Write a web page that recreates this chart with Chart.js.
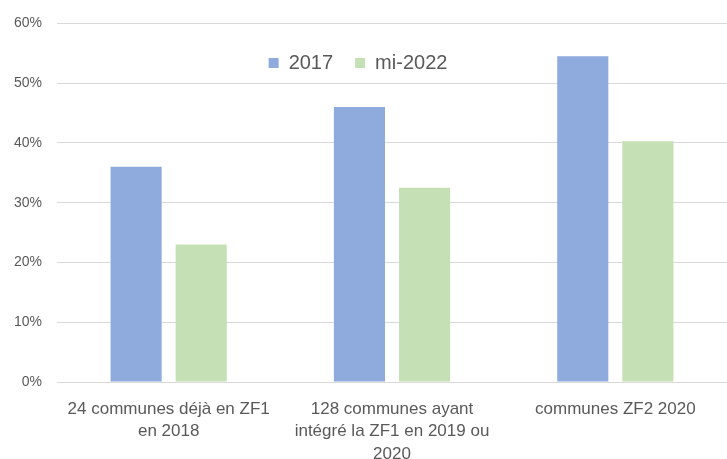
<!DOCTYPE html>
<html lang="fr">
<head>
    <meta charset="UTF-8">
    <title>Communes ZF1 / ZF2</title>
    <style>
        body {
            margin: 0;
            padding: 0;
            background-color: #ffffff;
        }

        .chart-box {
            width: 727px;
            height: 459px;
        }
    </style>
    <script src="https://cdn.jsdelivr.net/npm/chart.js"></script>
</head>
<body>
    <div class="chart-box">
        <canvas id="barChart" width="727" height="459"></canvas>
    </div>

    <script>
        // données
        const categories = [
            ['24 communes déjà en ZF1', 'en 2018'],
            ['128 communes ayant', 'intégré la ZF1 en 2019 ou', '2020'],
            'communes ZF2 2020'
        ];
        const seriesNames = ['2017', 'mi-2022'];
        const values2017 = [36, 46, 54.5];
        const valuesMi2022 = [23, 32.5, 40.3];
        const yTicks = [0, 10, 20, 30, 40, 50, 60];

        const colors = ['#8faadc', '#c5e0b4'];
        const textColor = '#595959';
        const fontName = '"Liberation Sans", Arial, sans-serif';

        // légende dessinée à l'intérieur de la zone du graphique, comme dans Excel
        const insideLegend = {
            id: 'insideLegend',
            afterDraw: function(chart) {
                const c = chart.ctx;
                const sets = chart.data.datasets;
                c.save();
                c.font = '20px ' + fontName;
                c.textBaseline = 'middle';
                const box = 10, gap = 10, between = 22;
                let total = 0;
                sets.forEach(function(ds, i) {
                    total += box + gap + c.measureText(ds.label).width;
                    if (i < sets.length - 1) total += between;
                });
                let x = 358 - total / 2;
                const y = 63;
                sets.forEach(function(ds) {
                    c.fillStyle = ds.backgroundColor;
                    c.fillRect(x, y - box / 2, box, box);
                    x += box + gap;
                    c.fillStyle = textColor;
                    c.fillText(ds.label, x, y);
                    x += c.measureText(ds.label).width + between;
                });
                c.restore();
            }
        };

        window.onload = function() {
            const ctx = document.getElementById('barChart').getContext('2d');
            new Chart(ctx, {
                type: 'bar',
                data: {
                    labels: categories,
                    datasets: [{
                        label: seriesNames[0],
                        data: values2017,
                        backgroundColor: colors[0],
                        borderWidth: 0,
                        categoryPercentage: 0.583,
                        barPercentage: 0.785
                    }, {
                        label: seriesNames[1],
                        data: valuesMi2022,
                        backgroundColor: colors[1],
                        borderWidth: 0,
                        categoryPercentage: 0.583,
                        barPercentage: 0.785
                    }]
                },
                plugins: [insideLegend],
                options: {
                    responsive: false,
                    animation: false,
                    layout: {
                        padding: { left: 14, right: 0, top: 18, bottom: 0 }
                    },
                    plugins: {
                        tooltip: { enabled: false },
                        legend: { display: false }
                    },
                    scales: {
                        x: {
                            grid: {
                                display: true,
                                drawOnChartArea: false,
                                drawTicks: true,
                                tickLength: 16,
                                color: 'rgba(0,0,0,0)'
                            },
                            border: { display: false },
                            afterFit: function(axis) {
                                axis.height = 77;
                            },
                            ticks: {
                                color: textColor,
                                font: { family: fontName, size: 17, lineHeight: 1.32 },
                                padding: 0,
                                maxRotation: 0,
                                autoSkip: false
                            }
                        },
                        y: {
                            min: 0,
                            max: 60,
                            afterBuildTicks: function(axis) {
                                axis.ticks = yTicks.map(function(v) { return { value: v }; });
                            },
                            afterFit: function(axis) {
                                axis.width = 43;
                            },
                            grid: {
                                color: '#d9d9d9',
                                lineWidth: 1,
                                drawTicks: false
                            },
                            border: { display: false },
                            ticks: {
                                color: textColor,
                                font: { family: fontName, size: 14 },
                                padding: 15,
                                callback: function(v) { return v + '%'; }
                            }
                        }
                    }
                }
            });
        };
    </script>
</body>
</html>
